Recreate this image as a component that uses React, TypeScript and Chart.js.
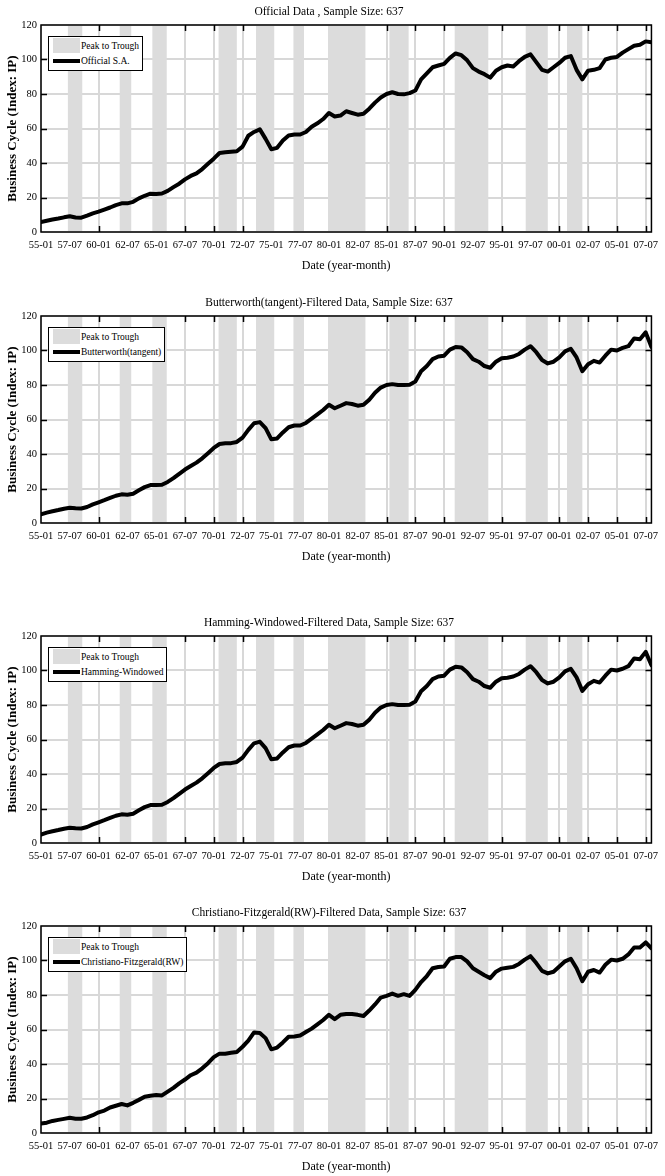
import React, { useEffect, useRef } from "react";
import { Chart, registerables } from "chart.js";

Chart.register(...registerables);

const FONT = "'Liberation Serif', 'Times New Roman', serif";
const SHADE = "rgb(220,220,220)";
const GRID = "rgb(216,216,216)";

// x axis: month index from 1955-01 (0) to 2008-01 (636)
const tickMonths = [0, 30, 60, 90, 120, 150, 180, 210, 240, 270, 300, 330, 360, 390, 420, 450, 480, 510, 540, 570, 600, 630];
const tickLabels = ["55-01", "57-07", "60-01", "62-07", "65-01", "67-07", "70-01", "72-07", "75-01", "77-07", "80-01", "82-07", "85-01", "87-07", "90-01", "92-07", "95-01", "97-07", "00-01", "02-07", "05-01", "07-07"];

// peak-to-trough periods (month index)
const recessionStart = [28, 82, 116, 185, 224, 263, 299, 363, 431, 505, 548];
const recessionEnd = [43, 94, 131, 204, 243, 274, 338, 383, 466, 528, 564];

// series sampled every 6 months, 55-01 .. 08-01
const SAMPLE_STEP = 6;

const officialSA = [
  5.8, 6.5, 7.2, 7.8, 8.5, 9.1, 8.4, 8.3, 9.5, 10.8,
  11.8, 13.0, 14.2, 15.6, 16.6, 16.6, 17.5, 19.5, 21.0, 22.2,
  22.0, 22.3, 23.8, 26.0, 28.0, 30.5, 32.5, 34.0, 36.5, 39.5,
  42.5, 45.8, 46.2, 46.5, 46.8, 49.5, 55.8, 58.0, 59.5, 54.0,
  48.0, 48.8, 53.0, 56.0, 56.5, 56.5, 58.0, 61.0, 63.0, 65.5,
  69.0, 67.0, 67.5, 70.0, 69.0, 68.0, 68.5, 71.5, 75.0, 78.0,
  80.0, 81.0, 80.0, 79.8, 80.5, 82.0, 88.5, 92.0, 95.5, 96.5,
  97.5, 101.0, 103.5, 102.5, 99.5, 95.0, 93.0, 91.5, 89.5, 93.5,
  95.5, 96.5, 96.0, 99.0, 101.5, 103.0, 98.5, 94.0, 93.0, 95.5,
  98.0, 101.0, 102.0, 94.0, 88.5, 93.5, 94.0, 95.0, 100.0, 101.0,
  101.5, 104.0, 106.0, 108.0, 108.5, 110.5, 110.0,
];

const butterworth = [
  5.0, 6.0, 6.8, 7.5, 8.3, 8.8, 8.5, 8.4, 9.3, 10.8,
  12.0, 13.2, 14.5, 15.8, 16.6, 16.4, 17.0, 19.0, 20.8, 22.0,
  22.0, 22.2, 23.8, 26.0, 28.5, 31.0, 33.0, 35.0, 37.5, 40.5,
  43.5, 45.8, 46.2, 46.3, 47.0, 49.5, 54.0, 57.8, 58.5, 55.0,
  48.5, 49.0, 52.5, 55.5, 56.5, 56.5, 58.0, 60.5, 63.0, 65.5,
  68.5, 66.5, 68.0, 69.5, 69.0, 68.0, 68.5, 71.5, 75.5, 78.5,
  80.0, 80.5, 80.0, 80.0, 80.2, 82.0, 88.0, 91.0, 95.0, 96.5,
  97.0, 100.5, 102.0, 101.8, 99.0, 95.0, 93.5, 91.0, 90.0, 93.5,
  95.5, 95.8, 96.5, 98.0, 100.5, 102.5, 99.0, 94.5, 92.5, 93.5,
  96.0, 99.5, 101.0, 96.0, 88.0, 92.0, 94.0, 93.0, 97.0, 100.5,
  100.0, 101.5, 102.5, 107.0, 106.5, 110.5, 102.0,
];

const hamming = [
  4.8, 6.0, 6.8, 7.5, 8.3, 8.8, 8.5, 8.4, 9.3, 10.8,
  12.0, 13.2, 14.5, 15.8, 16.6, 16.4, 17.0, 19.0, 20.8, 22.0,
  22.0, 22.2, 23.8, 26.0, 28.5, 31.0, 33.0, 35.0, 37.5, 40.5,
  43.5, 45.8, 46.2, 46.3, 47.0, 49.5, 54.0, 57.8, 58.8, 55.0,
  48.5, 49.0, 52.5, 55.5, 56.5, 56.5, 58.0, 60.5, 63.0, 65.5,
  68.5, 66.5, 68.0, 69.5, 69.0, 68.0, 68.5, 71.5, 75.5, 78.5,
  80.0, 80.5, 80.0, 80.0, 80.2, 82.0, 88.0, 91.0, 95.0, 96.5,
  97.0, 100.5, 102.2, 101.8, 99.0, 95.0, 93.5, 91.0, 90.0, 93.5,
  95.5, 95.8, 96.5, 98.0, 100.5, 102.5, 99.0, 94.5, 92.5, 93.5,
  96.0, 99.5, 101.0, 96.0, 88.2, 92.0, 94.0, 93.0, 97.0, 100.5,
  100.0, 101.0, 102.5, 107.0, 106.5, 110.8, 103.0,
];

const christianoFitzgerald = [
  5.5, 6.0, 7.0, 7.6, 8.2, 8.8, 8.3, 8.3, 9.0, 10.3,
  12.0, 13.0, 14.8, 15.8, 16.8, 16.0, 17.5, 19.2, 21.0, 21.6,
  22.0, 21.8, 24.0, 26.2, 28.8, 31.0, 33.5, 35.0, 37.5, 40.5,
  44.0, 46.0, 46.0, 46.5, 47.0, 50.0, 53.5, 58.3, 58.0, 55.0,
  48.5, 49.5, 52.5, 55.8, 56.0, 56.5, 58.5, 60.5, 63.0, 65.5,
  68.5, 66.0, 68.5, 69.0, 69.0, 68.5, 67.8, 71.0, 74.5, 78.5,
  79.5, 80.8, 79.5, 80.5, 79.5, 83.0, 87.5, 91.0, 95.5, 96.2,
  96.5, 101.0, 102.0, 102.0, 99.5, 95.5, 93.5, 91.5, 89.8, 93.5,
  95.3, 95.8, 96.3, 98.0, 100.5, 102.5, 98.5, 94.0, 92.5, 93.5,
  96.5, 99.5, 101.0, 95.5, 88.0, 93.5, 94.5, 93.0, 97.5, 100.5,
  100.0, 101.0, 103.5, 107.5, 107.5, 110.5, 107.0,
];

const panelTitles = [
  "Official Data , Sample Size: 637",
  "Butterworth(tangent)-Filtered Data, Sample Size: 637",
  "Hamming-Windowed-Filtered Data, Sample Size: 637",
  "Christiano-Fitzgerald(RW)-Filtered Data, Sample Size: 637",
];
const seriesNames = ["Official S.A.", "Butterworth(tangent)", "Hamming-Windowed", "Christiano-Fitzgerald(RW)"];
const seriesValues = [officialSA, butterworth, hamming, christianoFitzgerald];
const shadeLabel = "Peak to Trough";
const xTitle = "Date (year-month)";
const yTitle = "Business Cycle (Index: IP)";

// chart-area top of each panel on the page
const panelTops = [25, 316, 636, 926];
const CANVAS_H = 274;
const AREA_TOP = 25; // inside canvas
const TITLE_SIZE = 11.5;

const decorPlugin = {
  id: "decor",
  beforeDatasetsDraw(chart: any) {
    const { ctx, chartArea: a, scales } = chart;
    const x = scales.x;
    const y = scales.y;
    ctx.save();
    ctx.strokeStyle = "#000";
    ctx.lineWidth = 1.5;
    ctx.beginPath();
    x.ticks.forEach((t: any) => {
      if (t.value <= x.min || t.value >= x.max) return;
      const px = Math.round(x.getPixelForValue(t.value)) + 0.5;
      ctx.moveTo(px, a.bottom);
      ctx.lineTo(px, a.bottom - 6);
      ctx.moveTo(px, a.top);
      ctx.lineTo(px, a.top + 6);
    });
    y.ticks.forEach((t: any) => {
      if (t.value <= y.min || t.value >= y.max) return;
      const py = Math.round(y.getPixelForValue(t.value)) + 0.5;
      ctx.moveTo(a.left, py);
      ctx.lineTo(a.left + 6, py);
      ctx.moveTo(a.right, py);
      ctx.lineTo(a.right - 6, py);
    });
    ctx.stroke();
    ctx.fillStyle = SHADE;
    recessionStart.forEach((s, i) => {
      const x0 = x.getPixelForValue(s);
      const x1 = x.getPixelForValue(recessionEnd[i]);
      ctx.fillRect(x0, a.top, x1 - x0, a.bottom - a.top);
    });
    ctx.restore();
  },
  afterDatasetsDraw(chart: any) {
    const { ctx, chartArea: a } = chart;
    ctx.save();
    ctx.strokeStyle = "#000";
    ctx.lineWidth = 1.5;
    ctx.strokeRect(a.left, a.top, a.right - a.left, a.bottom - a.top);
    ctx.restore();
  },
};

function Panel({ idx }: { idx: number }) {
  const ref = useRef<HTMLCanvasElement>(null);
  useEffect(() => {
    const values = seriesValues[idx];
    const chart = new Chart(ref.current as HTMLCanvasElement, {
      type: "line",
      data: {
        datasets: [
          {
            label: seriesNames[idx],
            data: values.map((v, i) => ({ x: i * SAMPLE_STEP, y: v })),
            borderColor: "#000",
            borderWidth: 4,
            pointRadius: 0,
            tension: 0,
            fill: false,
            borderJoinStyle: "round",
            borderCapStyle: "round",
          },
        ],
      },
      options: {
        animation: false,
        responsive: false,
        maintainAspectRatio: false,
        events: [],
        layout: { padding: { left: 0, right: 7, top: 0, bottom: 0 } },
        plugins: {
          legend: { display: false },
          tooltip: { enabled: false },
          title: {
            display: true,
            text: panelTitles[idx],
            color: "#000",
            font: { family: FONT, size: TITLE_SIZE, weight: "normal" },
            padding: { top: 5.5, bottom: AREA_TOP - TITLE_SIZE * 1.2 - 5.5 },
          },
        },
        scales: {
          x: {
            type: "linear",
            min: 0,
            max: 636,
            afterBuildTicks: (s: any) => {
              s.ticks = tickMonths.map((v) => ({ value: v }));
            },
            afterFit: (s: any) => {
              s.height = 42;
            },
            ticks: {
              autoSkip: false,
              maxRotation: 0,
              minRotation: 0,
              padding: 7,
              color: "#000",
              font: { family: FONT, size: 10.5 },
              callback: (_v: any, i: number) => tickLabels[i],
            },
            grid: { color: GRID, lineWidth: 2, drawTicks: false },
            border: { display: false },
            title: {
              display: true,
              text: xTitle,
              color: "#000",
              font: { family: FONT, size: 12 },
              padding: { top: 0, bottom: 1 },
            },
          },
          y: {
            min: 0,
            max: 120,
            afterFit: (s: any) => {
              s.width = 41;
            },
            ticks: {
              stepSize: 20,
              padding: 4,
              color: "#000",
              font: { family: FONT, size: 10.5 },
            },
            grid: { color: GRID, lineWidth: 2, drawTicks: false },
            border: { display: false },
            title: {
              display: true,
              text: yTitle,
              color: "#000",
              font: { family: FONT, size: 13, weight: "bold" },
              padding: { top: 5, bottom: 0 },
            },
          },
        },
      } as any,
      plugins: [decorPlugin],
    });
    return () => chart.destroy();
  }, [idx]);

  const top = panelTops[idx] - AREA_TOP;
  return (
    <>
      <canvas
        ref={ref}
        width={665}
        height={CANVAS_H}
        style={{ position: "absolute", left: 0, top, width: 665, height: CANVAS_H }}
      />
      <div
        style={{
          position: "absolute",
          left: 48,
          top: panelTops[idx] + 11,
          border: "1.5px solid #000",
          background: "#fff",
          padding: "1px 3px 2px 4px",
          fontFamily: FONT,
          fontSize: 9.5,
          lineHeight: "14px",
          color: "#000",
          whiteSpace: "nowrap",
        }}
      >
        <div style={{ display: "flex", alignItems: "center", height: 15 }}>
          <span style={{ display: "inline-block", width: 27, height: 15, background: SHADE }} />
          <span style={{ marginLeft: 1 }}>{shadeLabel}</span>
        </div>
        <div style={{ display: "flex", alignItems: "center", height: 15 }}>
          <span style={{ display: "inline-block", width: 27, height: 4, background: "#000" }} />
          <span style={{ marginLeft: 1 }}>{seriesNames[idx]}</span>
        </div>
      </div>
    </>
  );
}

export default function App() {
  return (
    <div
      style={{
        position: "absolute",
        left: 0,
        top: 0,
        width: 665,
        height: 1176,
        overflow: "hidden",
        background: "#fff",
      }}
    >
      {[0, 1, 2, 3].map((i) => (
        <Panel key={i} idx={i} />
      ))}
    </div>
  );
}
